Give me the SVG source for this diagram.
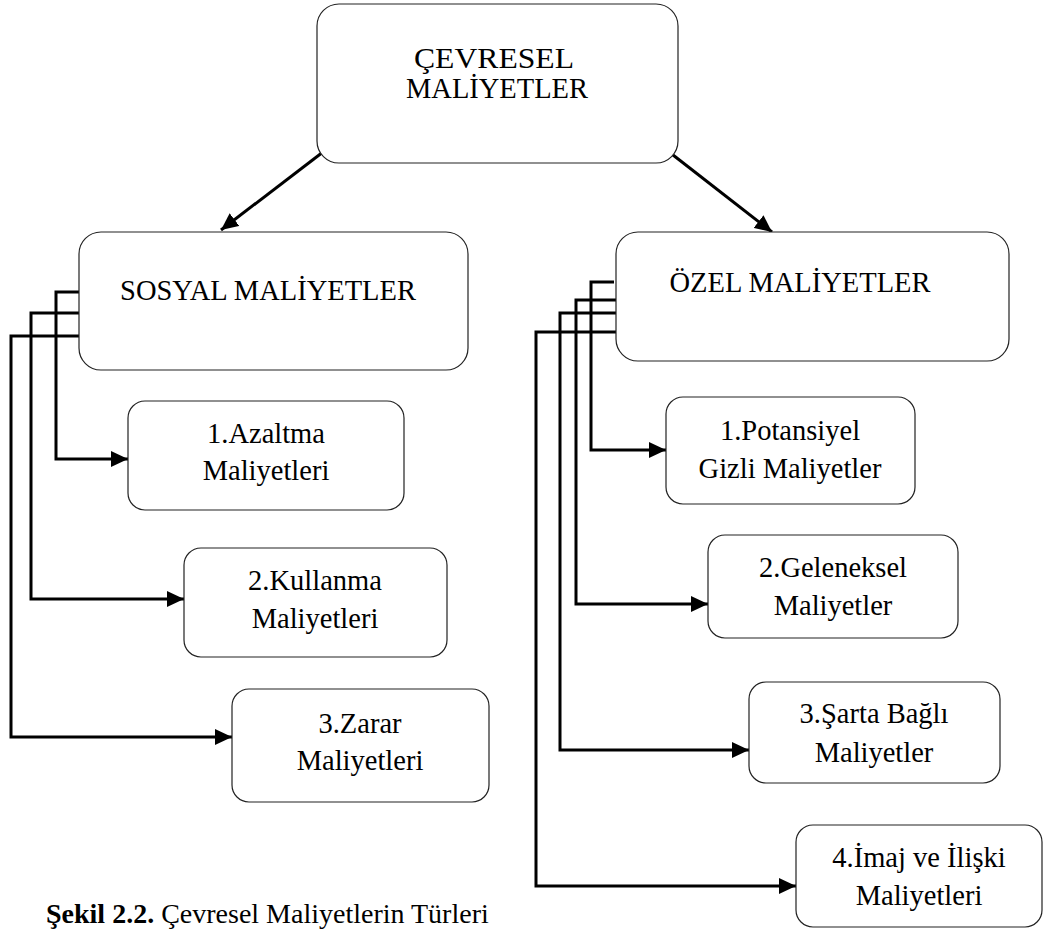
<svg xmlns="http://www.w3.org/2000/svg" width="1045" height="930" viewBox="0 0 1045 930">
<style>
.box{fill:#fff;stroke:#222;stroke-width:1.2}
.t{font-family:"Liberation Serif","Times New Roman",serif;font-size:28.5px;fill:#000;text-anchor:middle}
.c{fill:none;stroke:#000;stroke-width:3;marker-end:url(#ah)}
.cap{font-family:"Liberation Serif","Times New Roman",serif;font-size:28px;fill:#000}
</style>
<defs>
<marker id="ah" markerUnits="userSpaceOnUse" markerWidth="18" markerHeight="16" refX="17" refY="8" orient="auto" viewBox="0 0 18 16">
<path d="M0,0 L17,8 L0,16 z" fill="#000"/>
</marker>
</defs>
<rect width="1045" height="930" fill="#fff"/>
<g id="connectors">
<path class="c" d="M323,152 L221,230"/>
<path class="c" d="M673,155 L772,232"/>
<path class="c" d="M79,292 H56 V459 H128"/>
<path class="c" d="M79,313 H31 V599 H184"/>
<path class="c" d="M79,336 H11 V737 H232"/>
<path class="c" d="M614,282 H591 V450 H666"/>
<path class="c" d="M616,300 H576 V604 H708"/>
<path class="c" d="M617,313 H560 V750 H749"/>
<path class="c" d="M616,332 H536 V886 H796"/>
</g>
<g id="cevresel">
<rect class="box" x="317" y="4" width="361" height="159" rx="22"/>
<text class="t" x="494" y="68" textLength="160" lengthAdjust="spacingAndGlyphs">ÇEVRESEL</text>
<text class="t" x="497" y="98">MALİYETLER</text>
</g>
<g id="sosyal">
<rect class="box" x="79" y="232" width="389" height="138" rx="22"/>
<text class="t" x="268" y="300">SOSYAL MALİYETLER</text>
</g>
<g id="ozel">
<rect class="box" x="616" y="232" width="393" height="129" rx="22"/>
<text class="t" x="800" y="292">ÖZEL MALİYETLER</text>
</g>
<g id="azaltma">
<rect class="box" x="128" y="401" width="276" height="109" rx="17"/>
<text class="t" x="266" y="443">1.Azaltma</text>
<text class="t" x="266" y="480">Maliyetleri</text>
</g>
<g id="kullanma">
<rect class="box" x="184" y="548" width="263" height="109" rx="17"/>
<text class="t" x="315" y="590">2.Kullanma</text>
<text class="t" x="315" y="628">Maliyetleri</text>
</g>
<g id="zarar">
<rect class="box" x="232" y="689" width="257" height="113" rx="17"/>
<text class="t" x="360" y="733">3.Zarar</text>
<text class="t" x="360" y="770">Maliyetleri</text>
</g>
<g id="potansiyel">
<rect class="box" x="666" y="397" width="249" height="107" rx="17"/>
<text class="t" x="790" y="440">1.Potansiyel</text>
<text class="t" x="790" y="478">Gizli Maliyetler</text>
</g>
<g id="geleneksel">
<rect class="box" x="708" y="535" width="250" height="103" rx="17"/>
<text class="t" x="833" y="577">2.Geleneksel</text>
<text class="t" x="833" y="615">Maliyetler</text>
</g>
<g id="sarta">
<rect class="box" x="749" y="682" width="251" height="101" rx="17"/>
<text class="t" x="874" y="723">3.Şarta Bağlı</text>
<text class="t" x="874" y="762">Maliyetler</text>
</g>
<g id="imaj">
<rect class="box" x="796" y="825" width="246" height="102" rx="17"/>
<text class="t" x="919" y="867">4.İmaj ve İlişki</text>
<text class="t" x="919" y="905">Maliyetleri</text>
</g>
<text class="cap" x="46" y="923"><tspan font-weight="bold">Şekil 2.2.</tspan> Çevresel Maliyetlerin Türleri</text>
</svg>
